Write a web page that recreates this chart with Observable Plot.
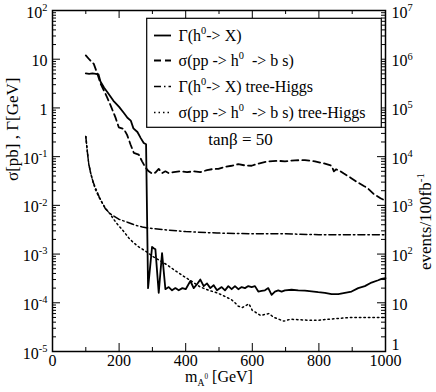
<!DOCTYPE html>
<html>
<head>
<meta charset="utf-8">
<script src="https://cdn.jsdelivr.net/npm/d3@7"></script>
<script src="https://cdn.jsdelivr.net/npm/@observablehq/plot@0.6"></script>
<style>
  html, body { margin: 0; padding: 0; background: white; }
  svg, svg text, svg tspan { font-family: "Liberation Serif", "Times New Roman", Times, Tinos, "Noto Serif", "DejaVu Serif", FreeSerif, serif !important; white-space: pre; }
</style>
</head>
<body>
<div id="chart"></div>
<script>
// ---- data ----
const gammaMass = [100,110,120,130,138,144,155,165,183,200,215,225,235,243,255,265,274,281,287,299,305,309,319,329,339,349,359,369,379,390,400,414,424,434,444,454,464,474,484,494,508,518,528,538,548,558,568,578,588,598,608,618,628,638,648,658,668,678,688,698,718,738,758,778,798,818,838,858,878,898,918,938,958,978,988,1000];
const gammaVal  = [5.1,5.0,5.1,5.0,4.9,3.5,2.6,2.1,1.4,1.05,0.78,0.63,0.55,0.38,0.32,0.24,0.19,0.18,2.0e-4,1.4e-3,1.3e-3,1.25e-3,1.6e-4,1.05e-3,1.9e-4,2.1e-4,1.8e-4,2.0e-4,1.8e-4,2.0e-4,1.9e-4,2.8e-4,2.0e-4,2.4e-4,3.0e-4,2.2e-4,2.5e-4,2.0e-4,2.3e-4,1.8e-4,2.1e-4,1.8e-4,2.2e-4,1.9e-4,2.2e-4,1.9e-4,2.1e-4,2.0e-4,2.2e-4,2.1e-4,2.2e-4,1.7e-4,1.75e-4,1.8e-4,2.0e-4,1.45e-4,1.7e-4,1.8e-4,1.7e-4,1.8e-4,1.85e-4,1.8e-4,1.78e-4,1.72e-4,1.65e-4,1.6e-4,1.5e-4,1.5e-4,1.6e-4,1.7e-4,2.0e-4,2.2e-4,2.6e-4,2.9e-4,3.1e-4,3.2e-4];

const sigmaMass = [100,110,124,135,144,154,164,175,189,199,214,224,234,244,259,269,279,289,299,309,319,329,339,349,364,384,404,424,444,464,484,498,518,538,558,578,598,618,648,678,698,728,758,788,818,838,845,852,865,875,895,915,935,945,965,985,1000];
const sigmaVal  = [12,10,8,5,3.2,2.3,1.65,1.1,0.64,0.4,0.37,0.28,0.18,0.12,0.11,0.08,0.06,0.05,0.045,0.047,0.056,0.046,0.05,0.046,0.048,0.05,0.048,0.05,0.048,0.053,0.056,0.056,0.062,0.065,0.07,0.066,0.065,0.072,0.08,0.082,0.08,0.084,0.085,0.08,0.072,0.065,0.05,0.055,0.05,0.045,0.037,0.030,0.025,0.023,0.017,0.014,0.0125];

const gammaTreeMass = [100,105,109,115,122,129,140,150,159,175,199,225,249,270,289,350,400,494,600,700,800,900,1000];
const gammaTreeVal  = [0.26,0.12,0.07,0.045,0.03,0.023,0.015,0.011,0.0085,0.0066,0.0052,0.0045,0.0039,0.0036,0.0034,0.0031,0.0029,0.0027,0.0026,0.0026,0.0025,0.0025,0.0025];

const sigmaTreeMass = [100,105,109,115,122,129,139,150,160,174,190,214,230,244,259,284,300,320,344,370,394,420,444,470,494,518,538,548,558,570,590,600,625,650,665,695,715,765,800,845,898,950,1000];
const sigmaTreeVal  = [0.26,0.12,0.07,0.045,0.03,0.021,0.015,0.011,0.0085,0.0065,0.0045,0.0029,0.0021,0.0017,0.0014,0.0011,9e-4,7.5e-4,6e-4,4.5e-4,3.5e-4,2.7e-4,2.1e-4,1.8e-4,1.6e-4,1.35e-4,1.15e-4,1.0e-4,8.5e-5,8e-5,9.5e-5,7e-5,5.5e-5,6e-5,5e-5,4.2e-5,4.6e-5,4.4e-5,4.4e-5,4.7e-5,5.0e-5,5.0e-5,5.0e-5];

// ---- axes / labels ----
const xMajor = [0,200,400,600,800,1000];
const xMinor = [100,300,500,700,900];
const xTickLabels = ["0","200","400","600","800","1000"];
const yMajor = [1e-5,1e-4,1e-3,1e-2,1e-1,1,10,100];
const yLeftLabels  = ["10^{-5}","10^{-4}","10^{-3}","10^{-2}","10^{-1}","1","10","10^{2}"];
const yRightLabels = ["1","10","10^{2}","10^{3}","10^{4}","10^{5}","10^{6}","10^{7}"];
const xLabel = "m_{A}'{0} [GeV]";
const yLabel = "σ[pb] , Γ[GeV]";
const y2Label = "events/100fb^{-1}";
const noteText = "tanβ = 50";
const legendLabels = ["Γ(h^{0}-> X)", "σ(pp -> h^{0}  -> b s)", "Γ(h^{0}-> X) tree-Higgs", "σ(pp -> h^{0}  -> b s) tree-Higgs"];

// minor log ticks (axis scaffolding)
const yMinor = [];
for (let e = -5; e < 2; e++) for (let k = 2; k <= 9; k++) yMinor.push(k * Math.pow(10, e));

// ---- layout ----
const W = 436, H = 392, mL = 52, mR = 51, mT = 10, mB = 41;
const pw = W - mL - mR, ph = H - mT - mB;
// pixel -> data helpers (for legend / annotation placement only)
const px2x = p => (p - mL) / pw * 1000;
const py2y = p => Math.pow(10, 2 - 7 * (p - mT) / ph);

const toRows = (ms, vs) => ms.map((m, i) => ({m, v: vs[i]}));

const styles = [
  {dash: null, w: 1.8},
  {dash: "7,4", w: 1.8},
  {dash: "7,3,1.5,3", w: 1.5},
  {dash: "1.5,3", w: 1.5}
];
const series = [
  toRows(gammaMass, gammaVal),
  toRows(sigmaMass, sigmaVal),
  toRows(gammaTreeMass, gammaTreeVal),
  toRows(sigmaTreeMass, sigmaTreeVal)
];

const legRowsPx = [35, 60, 86, 112];
const legend = {x1: px2x(146.7), x2: px2x(381.3), y1: py2y(127.3), y2: py2y(18.3),
  sx1: px2x(154), sx2: px2x(171), tx: px2x(178)};

const FONT = "'Liberation Serif', 'Times New Roman', Times, Tinos, 'Noto Serif', 'DejaVu Serif', FreeSerif, serif";
const marks = [];
// axis labels
const rightFmt = d => yRightLabels[yMajor.indexOf(d)];
marks.push(Plot.axisX({ticks: xMajor, tickSize: 0, tickPadding: 3, tickFormat: d => xTickLabels[xMajor.indexOf(d)], fontSize: 16, label: null}));
marks.push(Plot.axisY({anchor: "left", ticks: yMajor, tickSize: 0, tickPadding: 5, dy: 2, tickFormat: d => yLeftLabels[yMajor.indexOf(d)], fontSize: 16, label: null}));
marks.push(Plot.axisY({anchor: "right", ticks: yMajor.slice(1), tickSize: 0, tickPadding: 6, dy: 2, tickFormat: rightFmt, fontSize: 16, label: null}));
marks.push(Plot.axisY({anchor: "right", ticks: yMajor.slice(0, 1), tickSize: 0, tickPadding: 6, dy: -7, tickFormat: rightFmt, fontSize: 16, label: null}));
// inward ticks
const MAJ = 8, MIN = 4;
marks.push(Plot.tickX(xMajor, {x: d => d, insetTop: ph - MAJ, stroke: "black"}));
marks.push(Plot.tickX(xMinor, {x: d => d, insetTop: ph - MIN, stroke: "black"}));
marks.push(Plot.tickX(xMajor, {x: d => d, insetBottom: ph - MAJ, stroke: "black"}));
marks.push(Plot.tickX(xMinor, {x: d => d, insetBottom: ph - MIN, stroke: "black"}));
marks.push(Plot.tickY(yMajor, {y: d => d, insetRight: pw - MAJ, stroke: "black"}));
marks.push(Plot.tickY(yMinor, {y: d => d, insetRight: pw - MIN, stroke: "black"}));
marks.push(Plot.tickY(yMajor, {y: d => d, insetLeft: pw - MAJ, stroke: "black"}));
marks.push(Plot.tickY(yMinor, {y: d => d, insetLeft: pw - MIN, stroke: "black"}));
// curves
series.forEach((rows, i) => {
  marks.push(Plot.line(rows, {x: "m", y: "v", stroke: "black", strokeWidth: styles[i].w, strokeDasharray: styles[i].dash || undefined}));
});
// legend
marks.push(Plot.rect([0], {x1: legend.x1, x2: legend.x2, y1: legend.y1, y2: legend.y2, fill: "white", stroke: "black", strokeWidth: 1.2}));
legendLabels.forEach((lab, i) => {
  const yy = py2y(legRowsPx[i]);
  marks.push(Plot.ruleY([yy], {x1: legend.sx1, x2: legend.sx2, stroke: "black", strokeWidth: styles[i].w, strokeDasharray: styles[i].dash || undefined}));
  marks.push(Plot.text([lab], {x: legend.tx, y: yy, text: d => d, textAnchor: "start", fontSize: 16}));
});
// annotation
marks.push(Plot.text([noteText], {x: px2x(240), y: py2y(139), text: d => d, fontSize: 17}));
// axis titles
marks.push(Plot.text([xLabel], {frameAnchor: "bottom", dy: 30, text: d => d, fontSize: 16}));
marks.push(Plot.text([yLabel], {frameAnchor: "left", dx: -40, text: d => d, rotate: -90, fontSize: 17}));
marks.push(Plot.text([y2Label], {frameAnchor: "right", dx: 40, dy: -8, text: d => d, rotate: -90, fontSize: 17}));
marks.push(Plot.frame({stroke: "black", strokeWidth: 1.5}));

const chart = Plot.plot({
  width: W, height: H,
  marginLeft: mL, marginRight: mR, marginTop: mT, marginBottom: mB,
  style: {fontFamily: FONT, fontSize: "16px", background: "white", color: "black", overflow: "visible"},
  x: {domain: [0, 1000]},
  y: {type: "log", domain: [1e-5, 100]},
  marks
});
chart.setAttribute("font-family", FONT);
document.getElementById("chart").appendChild(chart);

// rich text: ^{..} superscript, _{..} subscript, '{..} small raised-after-subscript
function richify(svg) {
  d3.select(svg).selectAll("text").each(function () {
    const t = this.textContent;
    if (!/[\^_']\{/.test(t)) return;
    const fs = parseFloat(getComputedStyle(this).fontSize) || 16;
    const el = this;
    el.textContent = "";
    const re = /([\^_'])\{([^}]*)\}/g;
    let last = 0, shift = 0, m;
    const add = (str, target, size) => {
      const ts = d3.select(el).append("tspan").text(str);
      const dy = target - shift;
      if (dy) ts.attr("dy", dy);
      if (size) ts.attr("font-size", size);
      shift = target;
    };
    while ((m = re.exec(t))) {
      if (m.index > last) add(t.slice(last, m.index), 0);
      if (m[1] === "^") add(m[2], -fs * 0.42, fs * 0.65);
      else if (m[1] === "_") add(m[2], fs * 0.3, fs * 0.6);
      else add(m[2], -fs * 0.18, fs * 0.45);
      last = re.lastIndex;
    }
    if (last < t.length) add(t.slice(last), 0);
  });
}
richify(chart);
</script>
</body>
</html>
